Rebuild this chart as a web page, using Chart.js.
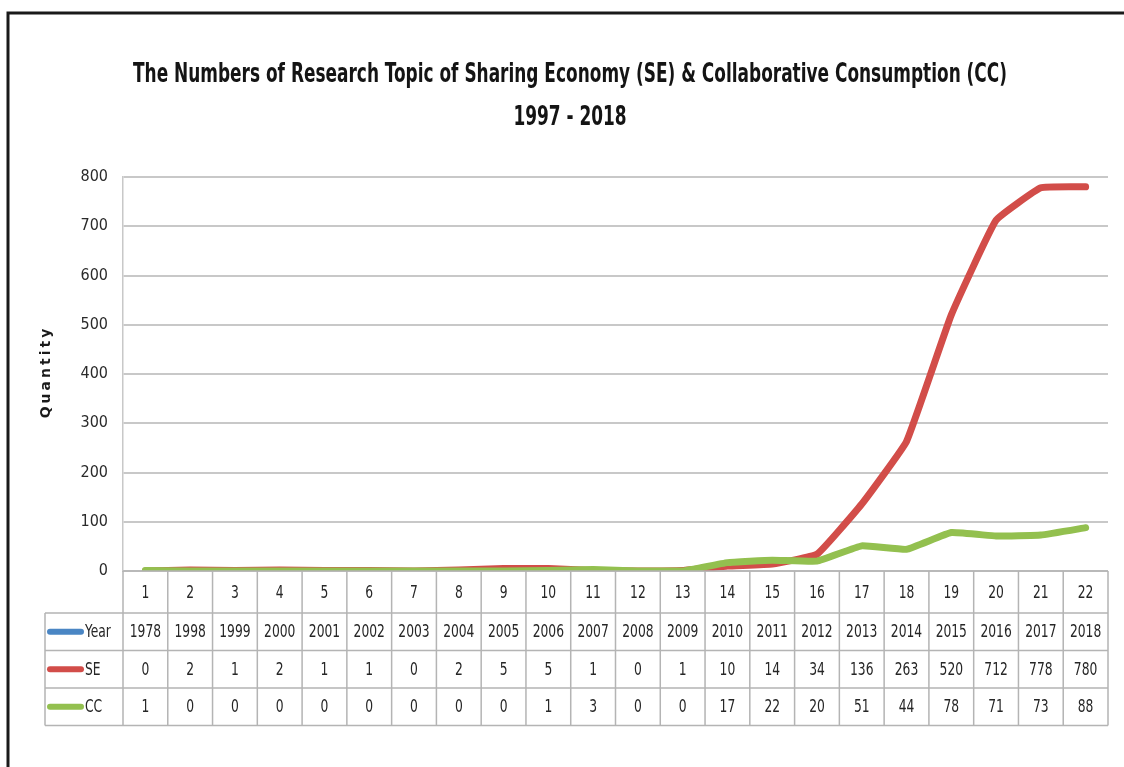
<!DOCTYPE html>
<html>
<head>
<meta charset="utf-8">
<script src="https://cdn.jsdelivr.net/npm/chart.js@4/dist/chart.umd.min.js"></script>
<style>
  html, body { margin: 0; padding: 0; background: #ffffff; }
  #wrap { width: 1124px; height: 767px; position: relative; }
  canvas { display: block; }
</style>
</head>
<body>
<div id="wrap"><canvas id="c" width="1124" height="767"></canvas></div>
<script>
// Row of index numbers used as the category axis
const categories = ['1','2','3','4','5','6','7','8','9','10','11','12','13','14','15','16','17','18','19','20','21','22'];
// Publication year for each index
const years = ['1978','1998','1999','2000','2001','2002','2003','2004','2005','2006','2007','2008','2009','2010','2011','2012','2013','2014','2015','2016','2017','2018'];
// Sharing Economy (SE) topic counts
const seValues = [0, 2, 1, 2, 1, 1, 0, 2, 5, 5, 1, 0, 1, 10, 14, 34, 136, 263, 520, 712, 778, 780];
// Collaborative Consumption (CC) topic counts
const ccValues = [1, 0, 0, 0, 0, 0, 0, 0, 0, 1, 3, 0, 0, 17, 22, 20, 51, 44, 78, 71, 73, 88];
// Y axis tick values
const yTicks = [0, 100, 200, 300, 400, 500, 600, 700, 800];

const titleLines = ['The Numbers of Research Topic of Sharing Economy (SE) & Collaborative Consumption (CC)', '1997 - 2018'];

const COLORS = { year: '#4a86c4', se: '#d24d49', cc: '#93c04f' };
const NARROW = '"DejaVu Sans Condensed", "Liberation Sans Narrow", sans-serif';

// draw text squeezed horizontally by factor k around (x, y)
function narrowText(ctx, text, x, y, k) {
  ctx.save();
  ctx.translate(x, y);
  ctx.scale(k, 1);
  ctx.fillText(text, 0, 0);
  ctx.restore();
}

// Frame, title, axis caption and the data table under the plot
const decorations = {
  id: 'decorations',
  afterDraw(chart) {
    const ctx = chart.ctx;
    const x = chart.scales.x;
    const area = chart.chartArea;
    ctx.save();

    // outer frame (top and left edges)
    ctx.strokeStyle = '#1a1a1a';
    ctx.lineWidth = 3;
    ctx.beginPath();
    ctx.moveTo(8, 767);
    ctx.lineTo(8, 13);
    ctx.lineTo(1124, 13);
    ctx.stroke();

    // title, condensed to the width of the plot heading
    ctx.fillStyle = '#141414';
    ctx.textAlign = 'center';
    ctx.textBaseline = 'middle';
    ctx.font = 'bold 26px ' + NARROW;
    const k = 874 / ctx.measureText(titleLines[0]).width;
    narrowText(ctx, titleLines[0], 570, 75, k);
    narrowText(ctx, titleLines[1], 570, 118, k);

    // y axis caption
    ctx.save();
    ctx.translate(46, (area.top + area.bottom) / 2);
    ctx.rotate(-Math.PI / 2);
    ctx.font = 'bold 14px "DejaVu Sans", sans-serif';
    ctx.letterSpacing = '3px';
    ctx.fillStyle = '#1a1a1a';
    ctx.fillText('Quantity', 2, 0);
    ctx.restore();

    // data table
    const rowTops = [area.bottom, area.bottom + 42, area.bottom + 79.5, area.bottom + 117, area.bottom + 154.5];
    const tableLeft = 45;
    const n = categories.length;
    const step = x.getPixelForValue(1) - x.getPixelForValue(0);
    const edges = [];
    for (let i = 0; i <= n; i++) edges.push(x.getPixelForValue(0) - step / 2 + i * step);

    ctx.strokeStyle = '#b4b4b4';
    ctx.lineWidth = 1.5;
    ctx.beginPath();
    ctx.moveTo(edges[0], rowTops[0]); ctx.lineTo(edges[n], rowTops[0]);
    for (let r = 1; r < rowTops.length; r++) {
      ctx.moveTo(tableLeft, rowTops[r]); ctx.lineTo(edges[n], rowTops[r]);
    }
    for (let i = 0; i <= n; i++) {
      ctx.moveTo(edges[i], rowTops[0]); ctx.lineTo(edges[i], rowTops[4]);
    }
    ctx.moveTo(tableLeft, rowTops[1]); ctx.lineTo(tableLeft, rowTops[4]);
    ctx.stroke();

    const rows = [
      { values: categories },
      { label: 'Year', color: COLORS.year, values: years },
      { label: 'SE', color: COLORS.se, values: seValues },
      { label: 'CC', color: COLORS.cc, values: ccValues }
    ];
    ctx.font = '18px ' + NARROW;
    ctx.fillStyle = '#262626';
    const kt = 0.76;
    rows.forEach((row, r) => {
      const cy = (rowTops[r] + rowTops[r + 1]) / 2 + 1;
      ctx.textAlign = 'center';
      row.values.forEach((v, i) => {
        narrowText(ctx, String(v), x.getPixelForValue(i), cy, kt);
      });
      if (row.label) {
        ctx.strokeStyle = row.color;
        ctx.lineWidth = 6;
        ctx.lineCap = 'round';
        ctx.beginPath();
        ctx.moveTo(50, cy - 1);
        ctx.lineTo(81, cy - 1);
        ctx.stroke();
        ctx.textAlign = 'left';
        narrowText(ctx, row.label, 85, cy, kt);
      }
    });
    ctx.restore();
  }
};

new Chart(document.getElementById('c'), {
  type: 'line',
  data: {
    labels: categories,
    datasets: [
      { label: 'SE', data: seValues, borderColor: COLORS.se, backgroundColor: COLORS.se, order: 1 },
      { label: 'CC', data: ccValues, borderColor: COLORS.cc, backgroundColor: COLORS.cc, order: 0 }
    ]
  },
  options: {
    responsive: false,
    animation: false,
    devicePixelRatio: 1,
    layout: { padding: { top: 177, bottom: 196, left: 20, right: 16 } },
    elements: {
      line: { borderWidth: 7, tension: 0.1, borderCapStyle: 'round', borderJoinStyle: 'round' },
      point: { radius: 0, hoverRadius: 0 }
    },
    plugins: {
      legend: { display: false },
      title: { display: false },
      tooltip: { enabled: false }
    },
    scales: {
      x: {
        type: 'category',
        offset: true,
        display: false
      },
      y: {
        min: 0,
        max: 800,
        afterBuildTicks(scale) { scale.ticks = yTicks.map(v => ({ value: v })); },
        afterFit(scale) { scale.width = 103; },
        ticks: {
          padding: 15,
          color: '#2a2a2a',
          font: { family: NARROW, size: 16 }
        },
        grid: { color: '#c8c8c8', lineWidth: 2, drawTicks: false },
        border: { display: true, color: '#c8c8c8', width: 1.5 }
      }
    }
  },
  plugins: [decorations]
});
</script>
</body>
</html>
